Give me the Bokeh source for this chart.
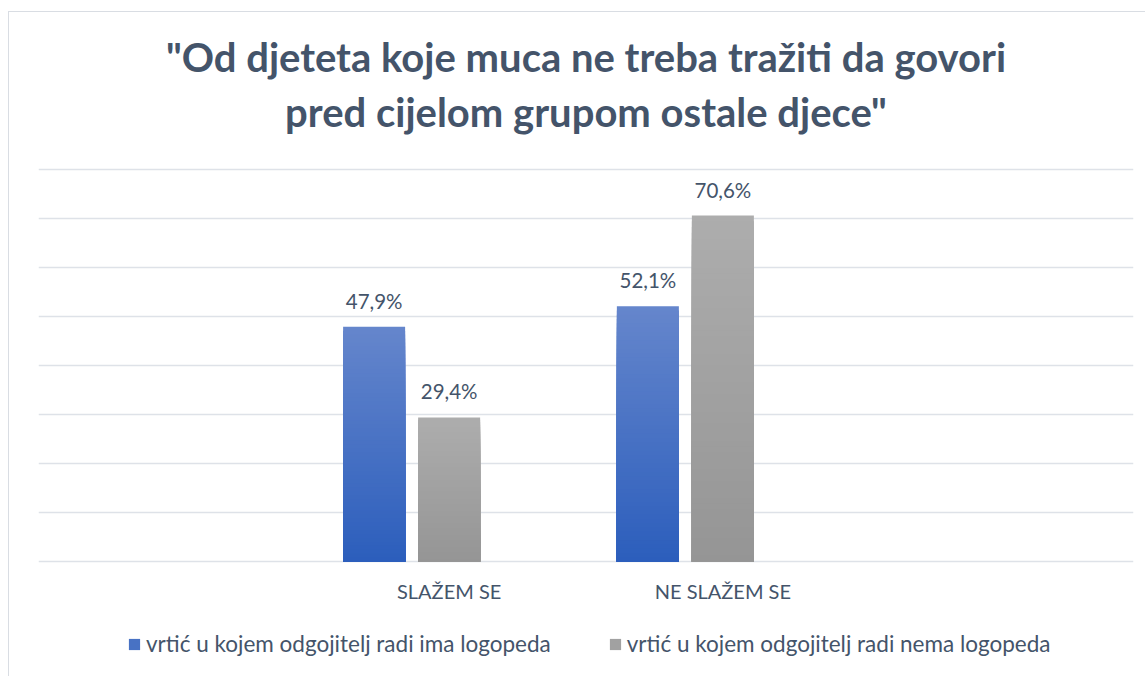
from bokeh.plotting import figure
from bokeh.models import Range1d, FixedTicker, Legend, LegendItem, ColumnDataSource, Grid
from bokeh.embed import file_html
from bokeh.resources import INLINE

# ---------------- data ----------------
categories = ["SLAŽEM SE", "NE SLAŽEM SE"]
series_names = ["vrtić u kojem odgojitelj radi ima logopeda",
                "vrtić u kojem odgojitelj radi nema logopeda"]
ima = [47.9, 52.1]
nema = [29.4, 70.6]
labels_ima = ["47,9%", "52,1%"]
labels_nema = ["29,4%", "70,6%"]
title_lines = ['"Od djeteta koje muca ne treba tražiti da govori',
               'pred cijelom grupom ostale djece"']
y_ticks = [0, 10, 20, 30, 40, 50, 60, 70, 80]

# ---------------- style ----------------
TEXT = "#44546A"
GRID = "#DEE2E8"
BLUE_TOP, BLUE_BOT = "#6586CC", "#2C5EBC"
GRAY_TOP, GRAY_BOT = "#ADADAD", "#959595"
FONT = "Lato"

n_slots = 4
cat_x = [1, 2]            # categories occupy the middle slots of 4
offsets = [-0.274, 0.0]   # third (empty) series would sit at +0.274
bar_w = 0.2265
N = 60

# frame geometry (pixels, figure coords; figure placed at 8,11 in the page)
FIG_W, FIG_H = 1137, 665
PX_PER_UNIT = 4.9
GRID80_PX = 157            # pixel row of the 80 % gridline from figure top
Y_TOP = 80 + GRID80_PX / PX_PER_UNIT
Y_BOT = 80 - (FIG_H - GRID80_PX) / PX_PER_UNIT
TITLE_PX = [44, 99]        # anchor rows of the two title lines


def px_to_y(px):
    return Y_TOP - px / PX_PER_UNIT


def h2rgb(h):
    h = h.lstrip("#")
    return tuple(int(h[i:i + 2], 16) for i in (0, 2, 4))


def mix(c1, c2, t):
    a, b = h2rgb(c1), h2rgb(c2)
    return "#%02x%02x%02x" % tuple(round(a[i] + (b[i] - a[i]) * t) for i in range(3))


def strips(values, off, top_c, bot_c):
    # nested bands from 0 up to each band top, drawn tallest first -> seamless gradient
    xs, tops, cols = [], [], []
    for cx, v in zip(cat_x, values):
        for k in reversed(range(N)):
            xs.append(cx + off)
            tops.append(v * (k + 1) / N)
            cols.append(mix(bot_c, top_c, (k + 0.5) / N))
    return ColumnDataSource(dict(x=xs, top=tops, color=cols))


p = figure(width=FIG_W, height=FIG_H, output_backend="svg", toolbar_location=None,
           x_range=Range1d(-0.5, n_slots - 0.5), y_range=Range1d(Y_BOT, Y_TOP),
           min_border_left=29, min_border_right=13, min_border_top=0,
           min_border_bottom=0, background_fill_color="white",
           border_fill_color="white", outline_line_color=None,
           x_axis_location=None, y_axis_location=None)
p.margin = (11, 0, 0, 8)
p.styles = {"border-top": "1px solid #D9DDE3", "border-left": "1px solid #D9DDE3"}

# grid (only 0..80 %)
p.xgrid.visible = False
p.ygrid.visible = False
p.add_layout(Grid(dimension=1, ticker=FixedTicker(ticks=y_ticks),
                  grid_line_color=GRID, grid_line_width=1.3))

# title (two centred lines)
p.text(x=[(n_slots - 1) / 2] * 2, y=[px_to_y(v) for v in TITLE_PX], text=title_lines,
       text_align="center", text_baseline="alphabetic",
       text_font={"value": FONT}, text_font_style="bold",
       text_font_size={"value": "40px"}, text_color=TEXT)

# bars with vertical gradient
bar_renderers = []
for vals, off, tc, bc in [(ima, offsets[0], BLUE_TOP, BLUE_BOT),
                          (nema, offsets[1], GRAY_TOP, GRAY_BOT)]:
    src = strips(vals, off, tc, bc)
    r = p.vbar(x="x", bottom=0, top="top", width=bar_w, source=src,
               fill_color="color", line_color=None)
    bar_renderers.append(r)

# data labels
for vals, off, labs in [(ima, offsets[0], labels_ima), (nema, offsets[1], labels_nema)]:
    p.text(x=[cx + off for cx in cat_x], y=vals, text=labs,
           text_align="center", text_baseline="alphabetic", y_offset=-26,
           text_font={"value": FONT}, text_font_size={"value": "20.5px"},
           text_color=TEXT)

# category labels under the baseline
p.text(x=cat_x, y=[0] * len(cat_x), text=categories,
       text_align="center", text_baseline="alphabetic", y_offset=29,
       text_font={"value": FONT}, text_font_size={"value": "20px"},
       text_color=TEXT)

# legend
legend = Legend(items=[LegendItem(label=series_names[0], renderers=[bar_renderers[0]], index=N // 2),
                       LegendItem(label=series_names[1], renderers=[bar_renderers[1]], index=N // 2)],
                orientation="horizontal", location=(89, 20),
                glyph_width=14, glyph_height=14, label_standoff=5, spacing=57,
                padding=0, margin=0, border_line_color=None,
                background_fill_alpha=0,
                label_text_font=FONT, label_text_font_size="22.5px",
                label_text_color=TEXT)
p.add_layout(legend, "center")

open("out.html", "w").write(file_html(p, INLINE))
